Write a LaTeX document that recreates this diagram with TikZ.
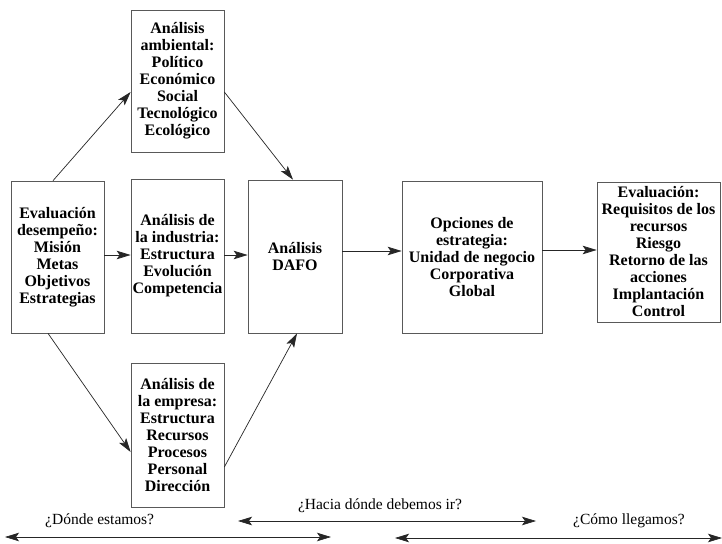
\documentclass[tikz,border=0pt]{standalone}
\usepackage{fontspec}
\setmainfont{Liberation Serif}
\usetikzlibrary{arrows.meta}
\tikzset{
  tip/.tip={Stealth[length=14pt,width=8.5pt,inset=3pt]},
  box/.style={draw=black!65, line width=0.7pt, align=center, inner sep=0pt,
    font=\bfseries\fontsize{16}{17}\selectfont},
  link/.style={draw=black!85, line width=0.7pt, -tip},
  span/.style={draw=black!85, line width=0.7pt, tip-tip},
  question/.style={font=\fontsize{15.5}{17}\selectfont, inner sep=0pt}
}
\begin{document}
\begin{tikzpicture}[x=1pt,y=-1pt]
  \useasboundingbox[fill=white] (0,0) rectangle (722,543);

  % stage boxes
  \node[box, minimum width=93pt, minimum height=152pt] (desemp) at (57.5,257)
    {Evaluación\\desempeño:\\Misión\\Metas\\Objetivos\\Estrategias};
  \node[box, minimum width=93pt, minimum height=142pt] (amb) at (177.5,81)
    {Análisis\\ambiental:\\Político\\Económico\\Social\\Tecnológico\\Ecológico};
  \node[box, minimum width=93pt, minimum height=154pt] (ind) at (177.5,256)
    {Análisis de\\la industria:\\Estructura\\Evolución\\Competencia};
  \node[box, minimum width=93pt, minimum height=144pt] (emp) at (177.5,435)
    {Análisis de\\la empresa:\\Estructura\\Recursos\\Procesos\\Personal\\Dirección};
  \node[box, minimum width=94pt, minimum height=153pt] (dafo) at (295,256.5)
    {Análisis\\DAFO};
  \node[box, minimum width=140pt, minimum height=152pt] (opc) at (472,257)
    {Opciones de\\estrategia:\\Unidad de negocio\\Corporativa\\Global};
  \node[box, minimum width=123pt, minimum height=140pt] (eval) at (658.5,252)
    {Evaluación:\\Requisitos de los\\recursos\\Riesgo\\Retorno de las\\acciones\\Implantación\\Control};

  % flow between boxes
  \draw[link] (desemp.north -| 53,0) -- (amb.west |- 0,92);
  \draw[link] (desemp.south -| 48,0) -- (emp.west |- 0,452);
  \draw[link] (desemp.east |- 0,255) -- (ind.west |- 0,255);
  \draw[link] (amb.east |- 0,92) -- (dafo.north -| 293,0);
  \draw[link] (ind.east |- 0,255) -- (dafo.west |- 0,255);
  \draw[link] (emp.east |- 0,467) -- (dafo.south -| 297,0);
  \draw[link] (dafo.east |- 0,251) -- (opc.west |- 0,251);
  \draw[link] (opc.east |- 0,250) -- (eval.west |- 0,250);

  % questions along the bottom
  \coordinate (l1) at (5,537);   \coordinate (r1) at (331,537);
  \coordinate (l2) at (238,521); \coordinate (r2) at (536,521);
  \coordinate (l3) at (395,538); \coordinate (r3) at (722,538);
  \draw[span] (l1) -- (r1);
  \draw[span] (l2) -- (r2);
  \draw[span] (l3) -- (r3);
  \node[question, anchor=west] (q1) at (45,521) {¿Dónde estamos?};
  \node[question] (q2) at (380,506) {¿Hacia dónde debemos ir?};
  \node[question, anchor=west] (q3) at (573,521) {¿Cómo llegamos?};
\end{tikzpicture}
\end{document}
